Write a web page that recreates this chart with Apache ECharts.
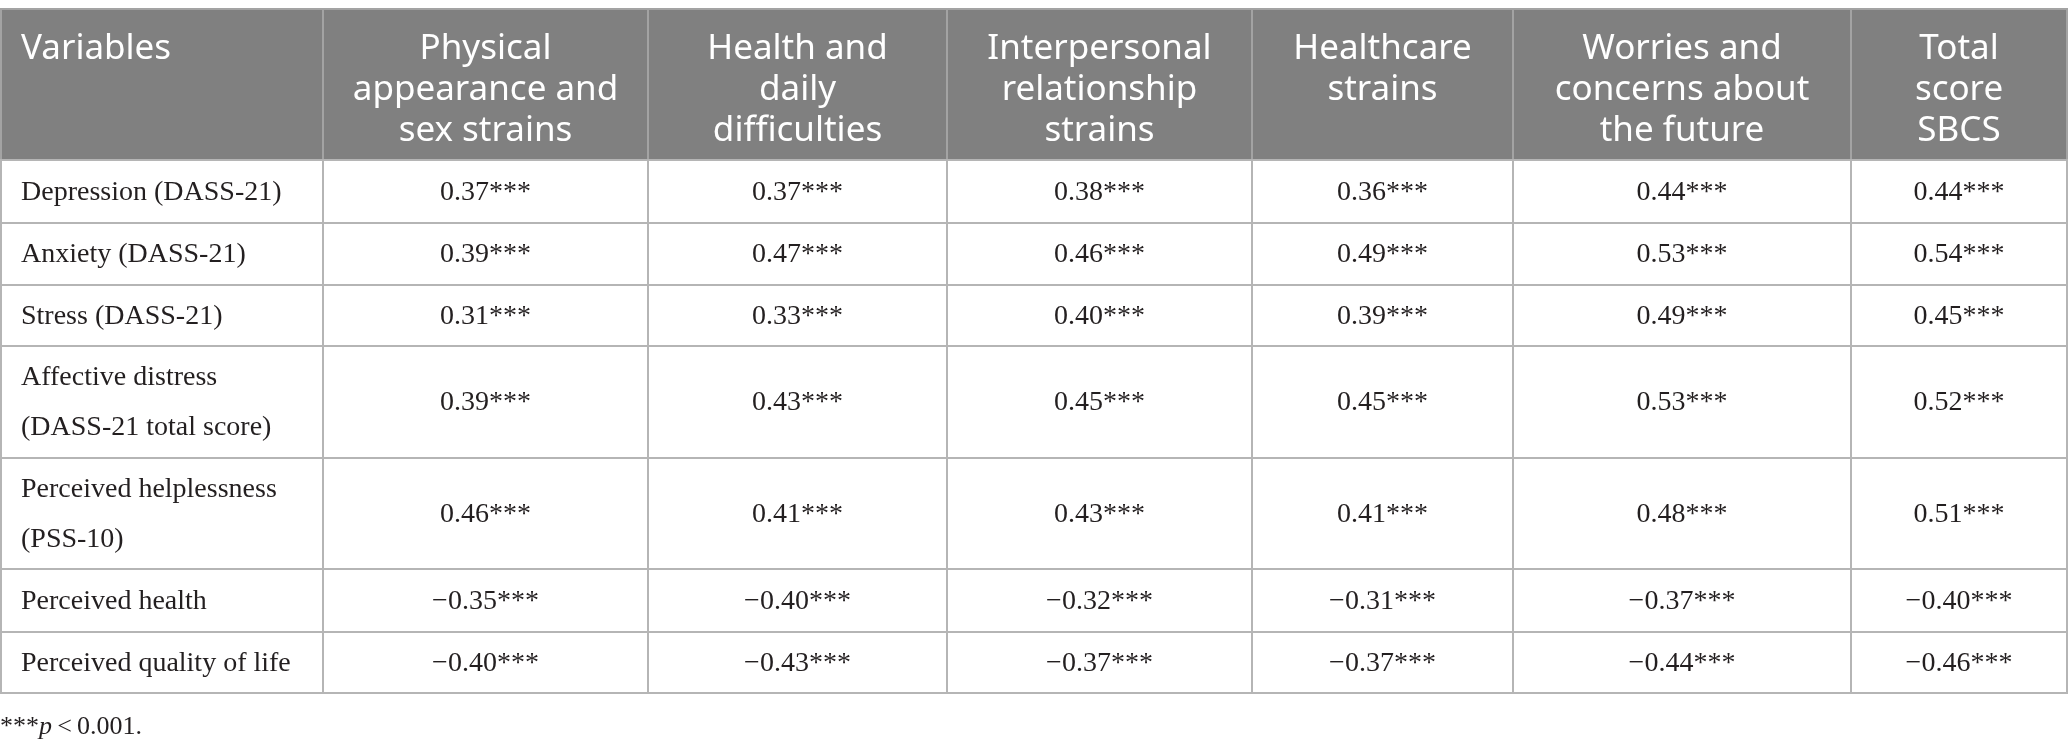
<!DOCTYPE html>
<html>
<head>
<meta charset="utf-8">
<title>SBCS correlations</title>
<script src="https://cdn.jsdelivr.net/npm/echarts@6/dist/echarts.min.js"></script>
<style>
  html, body { margin: 0; padding: 0; background: #fff; }
  #chart { width: 2069px; height: 752px; }
</style>
</head>
<body>
<div id="chart"></div>
<script>
// column headings (line breaks as in the printed table)
var headers = [
  'Variables',
  'Physical\nappearance and\nsex strains',
  'Health and\ndaily\ndifficulties',
  'Interpersonal\nrelationship\nstrains',
  'Healthcare\nstrains',
  'Worries and\nconcerns about\nthe future',
  'Total\nscore\nSBCS'
];
var variables = [
  'Depression (DASS-21)',
  'Anxiety (DASS-21)',
  'Stress (DASS-21)',
  'Affective distress\n(DASS-21 total score)',
  'Perceived helplessness\n(PSS-10)',
  'Perceived health',
  'Perceived quality of life'
];
// correlations, one array per SBCS subscale
var physical      = [0.37, 0.39, 0.31, 0.39, 0.46, -0.35, -0.40];
var healthDaily   = [0.37, 0.47, 0.33, 0.43, 0.41, -0.40, -0.43];
var interpersonal = [0.38, 0.46, 0.40, 0.45, 0.43, -0.32, -0.37];
var healthcare    = [0.36, 0.49, 0.39, 0.45, 0.41, -0.31, -0.37];
var worries       = [0.44, 0.53, 0.49, 0.53, 0.48, -0.37, -0.44];
var totalScore    = [0.44, 0.54, 0.45, 0.52, 0.51, -0.40, -0.46];
var valueCols = [physical, healthDaily, interpersonal, healthcare, worries, totalScore];
var sig = '***';

// layout: cell edges in axis units (same as pixels here)
var colEdges = [1, 323, 648, 947, 1252, 1513, 1851, 2067];
var rowEdges = [9, 160, 223, 285, 346, 458, 569, 632, 693];

var chart = echarts.init(document.getElementById('chart'), null, { renderer: 'canvas' });

function fmt(v) {
  var s = Math.abs(v).toFixed(2);
  return (v < 0 ? '\u2212' : '') + s + sig;
}

function cellRender(kind, labels) {
  return function (params, api) {
    var c = api.value(0), r = api.value(1);
    var p0 = api.coord([colEdges[c], rowEdges[r]]);
    var p1 = api.coord([colEdges[c + 1], rowEdges[r + 1]]);
    var w = p1[0] - p0[0], h = p1[1] - p0[1];
    var txt = labels[params.dataIndex];
    var rect, text;
    if (kind === 'header') {
      rect = { type: 'rect', shape: { x: p0[0], y: p0[1], width: w, height: h },
        style: { fill: '#808080', stroke: '#a3a3a3', lineWidth: 2 } };
      text = { type: 'text', x: c === 0 ? p0[0] + 20 : p0[0] + w / 2, y: p0[1] + 20,
        style: { text: txt, fill: '#ffffff', font: '35px "Noto Sans"', lineHeight: 41,
          align: c === 0 ? 'left' : 'center', verticalAlign: 'top' } };
    } else {
      rect = { type: 'rect', shape: { x: p0[0], y: p0[1], width: w, height: h },
        style: { fill: '#ffffff', stroke: '#b5b5b5', lineWidth: 2 } };
      text = { type: 'text', x: c === 0 ? p0[0] + 20 : p0[0] + w / 2, y: p0[1] + h / 2 + 1,
        style: { text: txt, fill: '#231f20', font: '28px "Liberation Serif"', lineHeight: 50,
          align: c === 0 ? 'left' : 'center', verticalAlign: 'middle' } };
    }
    return { type: 'group', children: [rect, text] };
  };
}

var series = [
  { type: 'custom', name: 'header', renderItem: cellRender('header', headers), silent: true,
    data: headers.map(function (h, i) { return [i, 0]; }) },
  { type: 'custom', name: 'variables', renderItem: cellRender('body', variables), silent: true,
    data: variables.map(function (v, i) { return [0, i + 1]; }) }
];
valueCols.forEach(function (col, ci) {
  series.push({
    type: 'custom',
    name: headers[ci + 1].replace(/\n/g, ' '),
    renderItem: cellRender('body', col.map(fmt)),
    silent: true,
    data: col.map(function (v, ri) { return [ci + 1, ri + 1, v]; })
  });
});

var option = {
  backgroundColor: '#ffffff',
  animation: false,
  title: {
    left: 0, top: 714, padding: 0,
    text: '{s|' + sig + '}{i|p}{s|\u2009<\u20090.001.}',
    textStyle: {
      rich: {
        s: { fontFamily: 'Liberation Serif', fontSize: 26, fontWeight: 'normal', color: '#231f20' },
        i: { fontFamily: 'Liberation Serif', fontSize: 26, fontWeight: 'normal', fontStyle: 'italic', color: '#231f20' }
      }
    }
  },
  grid: { left: 0, right: 0, top: 0, bottom: 0 },
  xAxis: { type: 'value', min: 0, max: 2069, show: false },
  yAxis: { type: 'value', min: 0, max: 752, inverse: true, show: false },
  series: series
};
chart.setOption(option);
</script>
</body>
</html>
